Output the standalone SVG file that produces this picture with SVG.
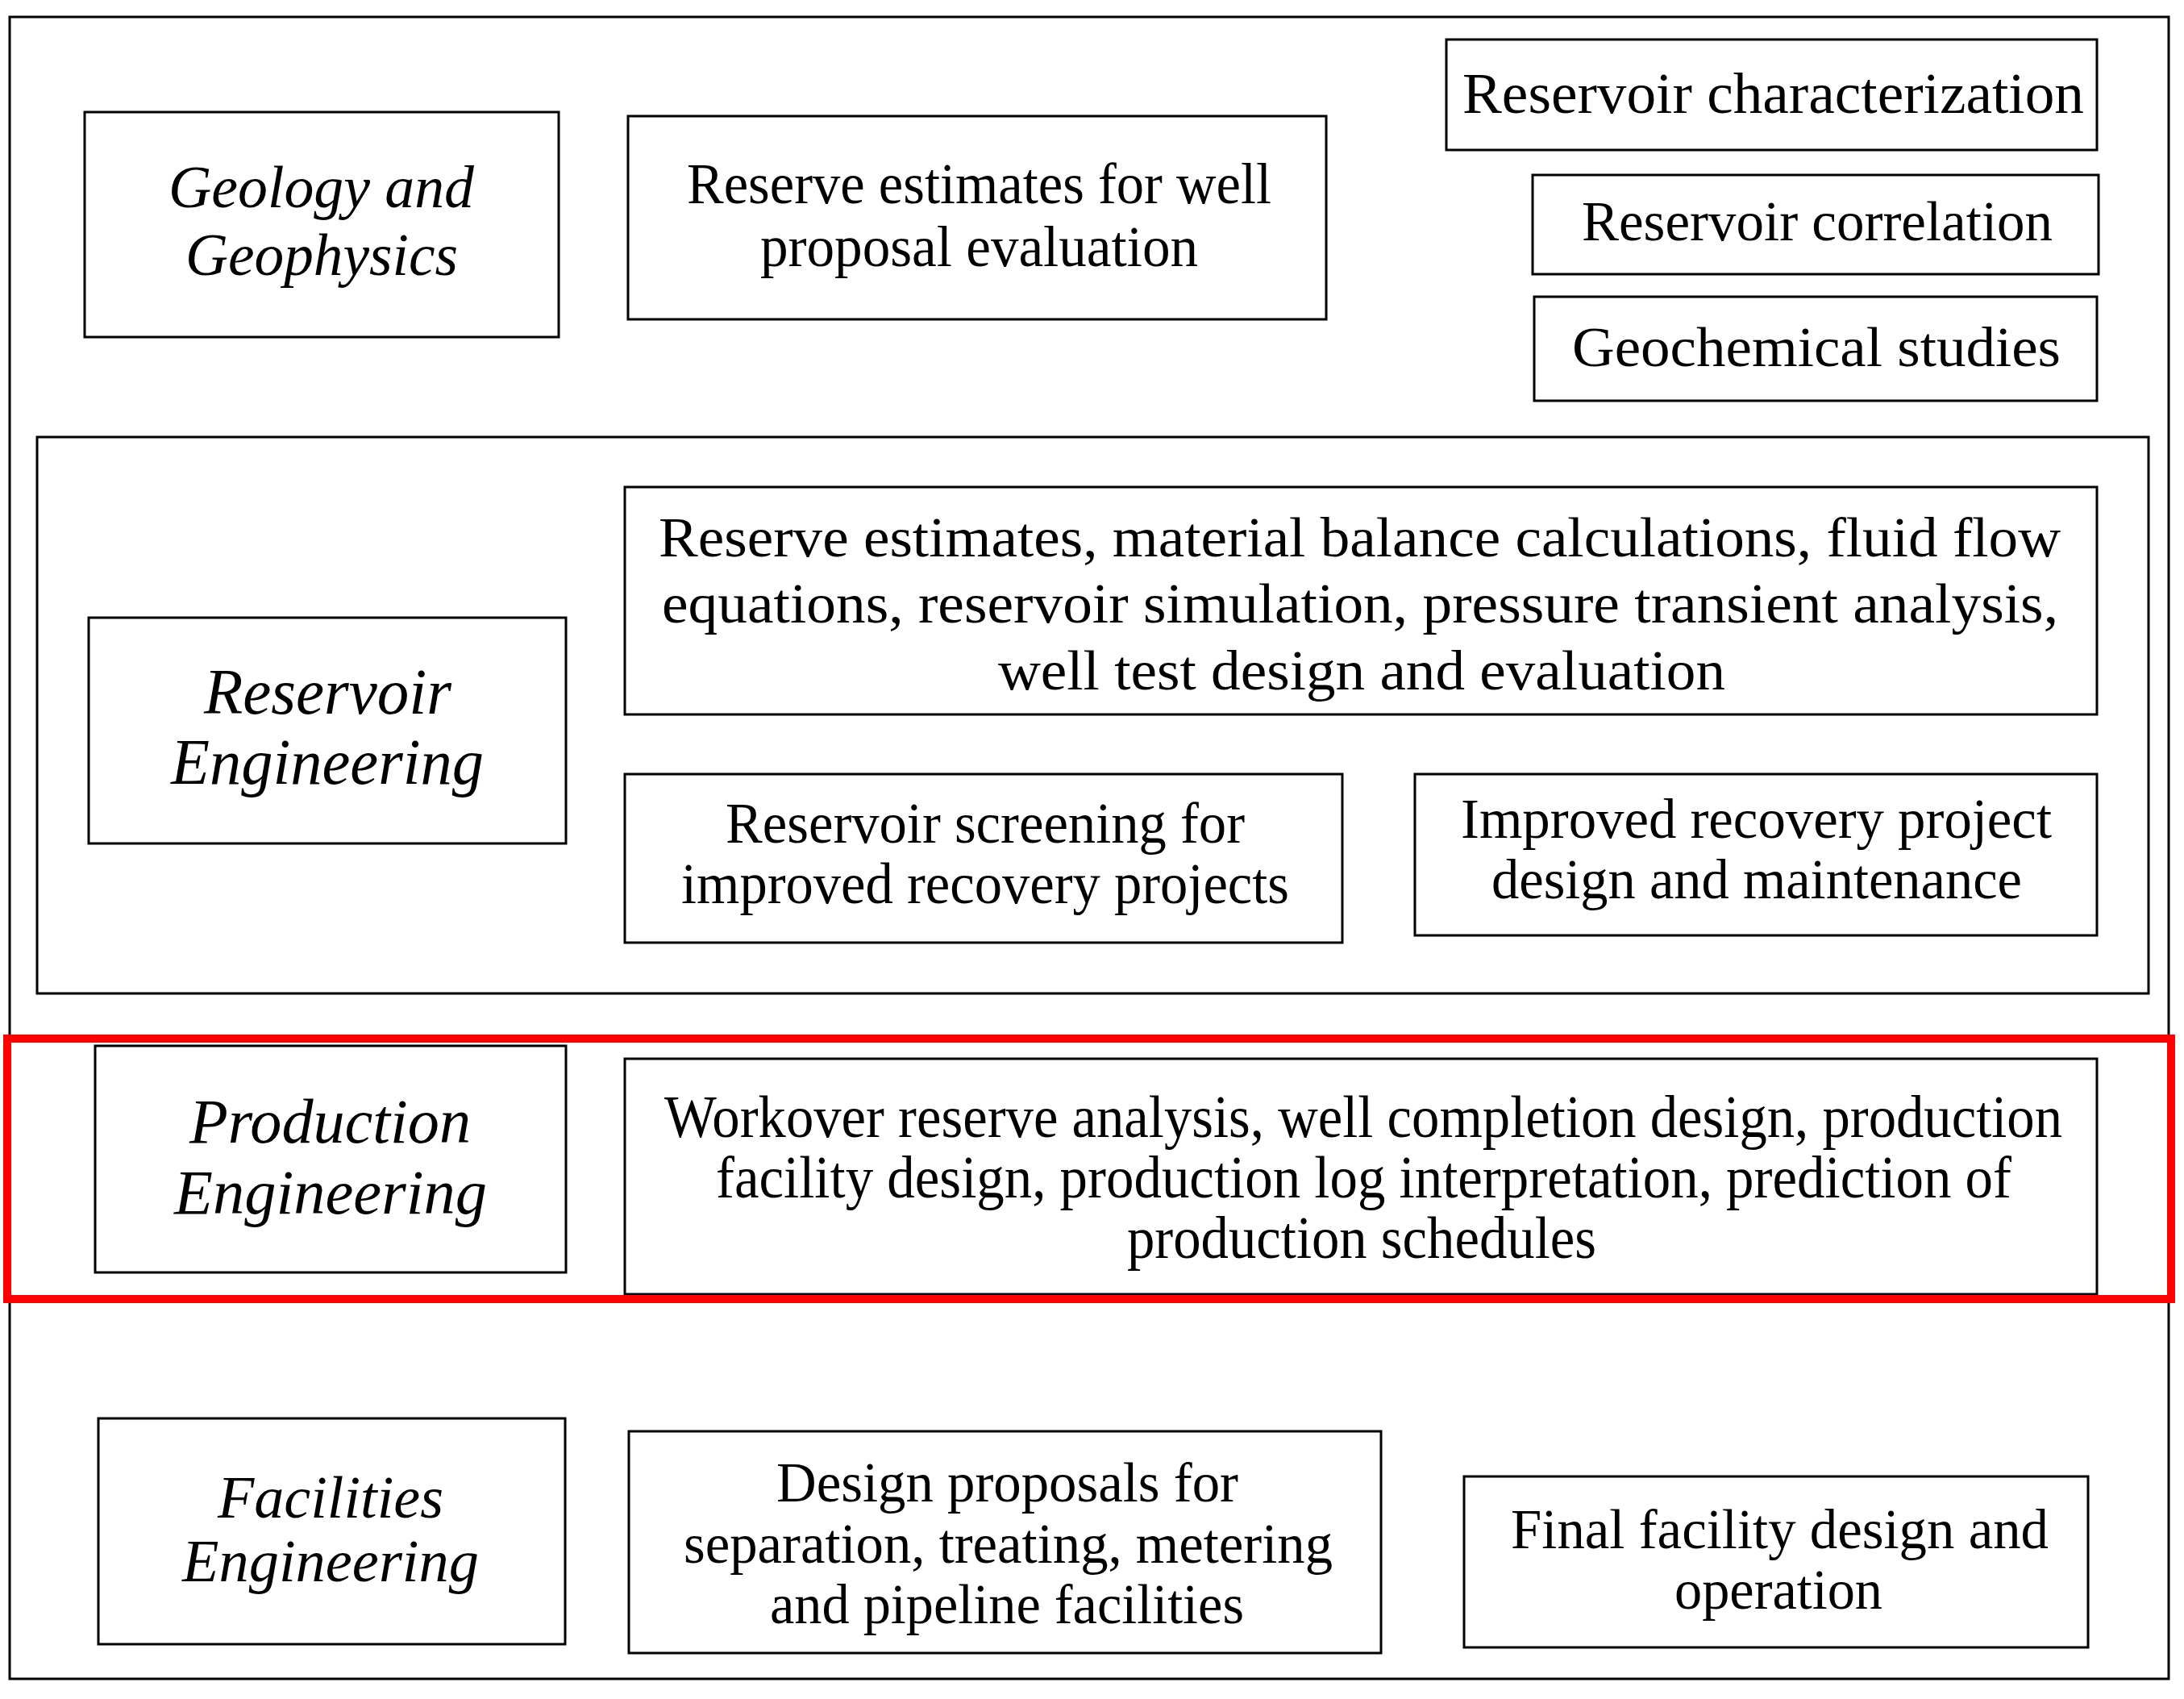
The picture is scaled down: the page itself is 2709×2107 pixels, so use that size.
<svg xmlns="http://www.w3.org/2000/svg" width="2709" height="2107" viewBox="0 0 2709 2107">
<style>
.box{fill:none;stroke:#000;stroke-width:3}
.t{font-family:"Liberation Serif","Times New Roman",serif;fill:#000}
.i{font-style:italic}
</style>
<rect x="0" y="0" width="2709" height="2107" fill="#fff"/>
<g id="frame"><rect class="box" x="12" y="21" width="2678" height="2061"/></g>
<g id="re-section"><rect class="box" x="46" y="542" width="2619" height="690"/></g>

<g id="geology">
<rect class="box" x="105" y="139" width="588" height="279"/>
<text class="t i" font-size="75" x="209" y="257" textLength="379" lengthAdjust="spacingAndGlyphs">Geology and</text>
<text class="t i" font-size="75" x="230" y="341" textLength="338" lengthAdjust="spacingAndGlyphs">Geophysics</text>
</g>
<g id="reserve-well">
<rect class="box" x="779" y="144" width="866" height="252"/>
<text class="t" font-size="71" x="852" y="252" textLength="725" lengthAdjust="spacingAndGlyphs">Reserve estimates for well</text>
<text class="t" font-size="71" x="943" y="330" textLength="543" lengthAdjust="spacingAndGlyphs">proposal evaluation</text>
</g>
<g id="res-char">
<rect class="box" x="1794" y="49" width="807" height="137"/>
<text class="t" font-size="71" x="1814" y="140" textLength="771" lengthAdjust="spacingAndGlyphs">Reservoir characterization</text>
</g>
<g id="res-corr">
<rect class="box" x="1901" y="217" width="702" height="123"/>
<text class="t" font-size="70" x="1962" y="298" textLength="584" lengthAdjust="spacingAndGlyphs">Reservoir correlation</text>
</g>
<g id="geochem">
<rect class="box" x="1903" y="368" width="698" height="129"/>
<text class="t" font-size="70" x="1950" y="454" textLength="606" lengthAdjust="spacingAndGlyphs">Geochemical studies</text>
</g>

<g id="reservoir-eng">
<rect class="box" x="110" y="766" width="592" height="280"/>
<text class="t i" font-size="80" x="253" y="885" textLength="307" lengthAdjust="spacingAndGlyphs">Reservoir</text>
<text class="t i" font-size="80" x="212" y="972" textLength="388" lengthAdjust="spacingAndGlyphs">Engineering</text>
</g>
<g id="reserve-calc">
<rect class="box" x="775" y="604" width="1826" height="282"/>
<text class="t" font-size="70" x="817" y="690" textLength="1739" lengthAdjust="spacingAndGlyphs">Reserve estimates, material balance calculations, fluid flow</text>
<text class="t" font-size="70" x="821" y="772" textLength="1732" lengthAdjust="spacingAndGlyphs">equations, reservoir simulation, pressure transient analysis,</text>
<text class="t" font-size="70" x="1238" y="855" textLength="902" lengthAdjust="spacingAndGlyphs">well test design and evaluation</text>
</g>
<g id="screening">
<rect class="box" x="775" y="960" width="890" height="209"/>
<text class="t" font-size="72" x="900" y="1045" textLength="644" lengthAdjust="spacingAndGlyphs">Reservoir screening for</text>
<text class="t" font-size="72" x="845" y="1120" textLength="754" lengthAdjust="spacingAndGlyphs">improved recovery projects</text>
</g>
<g id="improved">
<rect class="box" x="1755" y="960" width="846" height="200"/>
<text class="t" font-size="70" x="1812" y="1039" textLength="733" lengthAdjust="spacingAndGlyphs">Improved recovery project</text>
<text class="t" font-size="70" x="1850" y="1114" textLength="658" lengthAdjust="spacingAndGlyphs">design and maintenance</text>
</g>

<g id="production-eng">
<rect class="box" x="118" y="1297" width="584" height="281"/>
<text class="t i" font-size="79" x="235" y="1417" textLength="349" lengthAdjust="spacingAndGlyphs">Production</text>
<text class="t i" font-size="79" x="216" y="1505" textLength="388" lengthAdjust="spacingAndGlyphs">Engineering</text>
</g>
<g id="workover">
<rect class="box" x="775" y="1313" width="1826" height="292"/>
<text class="t" font-size="73" x="824" y="1410" textLength="1734" lengthAdjust="spacingAndGlyphs">Workover reserve analysis, well completion design, production</text>
<text class="t" font-size="73" x="888" y="1485" textLength="1607" lengthAdjust="spacingAndGlyphs">facility design, production log interpretation, prediction of</text>
<text class="t" font-size="73" x="1398" y="1560" textLength="582" lengthAdjust="spacingAndGlyphs">production schedules</text>
</g>
<g id="highlight"><rect x="9" y="1288" width="2684" height="323" fill="none" stroke="#ff0000" stroke-width="10"/></g>

<g id="facilities-eng">
<rect class="box" x="122" y="1759" width="579" height="280"/>
<text class="t i" font-size="75" x="270" y="1882" textLength="280" lengthAdjust="spacingAndGlyphs">Facilities</text>
<text class="t i" font-size="75" x="226" y="1961" textLength="368" lengthAdjust="spacingAndGlyphs">Engineering</text>
</g>
<g id="design-proposals">
<rect class="box" x="780" y="1775" width="933" height="275"/>
<text class="t" font-size="69" x="963" y="1862" textLength="573" lengthAdjust="spacingAndGlyphs">Design proposals for</text>
<text class="t" font-size="69" x="848" y="1938" textLength="805" lengthAdjust="spacingAndGlyphs">separation, treating, metering</text>
<text class="t" font-size="69" x="955" y="2013" textLength="588" lengthAdjust="spacingAndGlyphs">and pipeline facilities</text>
</g>
<g id="final-facility">
<rect class="box" x="1816" y="1831" width="774" height="212"/>
<text class="t" font-size="69" x="1874" y="1920" textLength="667" lengthAdjust="spacingAndGlyphs">Final facility design and</text>
<text class="t" font-size="69" x="2077" y="1995" textLength="258" lengthAdjust="spacingAndGlyphs">operation</text>
</g>
<g id="connectors"></g>
</svg>
